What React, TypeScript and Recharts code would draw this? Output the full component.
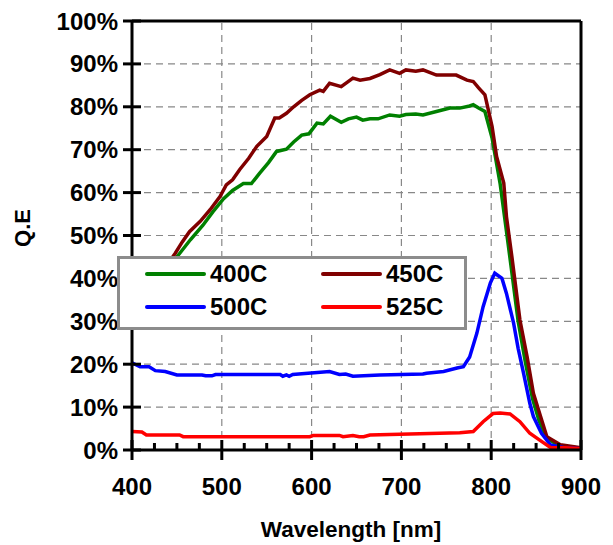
import React from 'react'
import {
  CartesianGrid,
  Legend,
  Line,
  LineChart,
  ReferenceLine,
  XAxis,
  YAxis,
} from 'recharts'

// wavelength (nm) / Q.E (%)
const x400 = [400, 425, 453, 465, 479, 490, 502, 512, 524, 533, 542, 552, 561, 572, 580, 589, 597, 606, 613, 621, 633, 641, 650, 657, 665, 674, 687, 698, 705, 716, 724, 739, 754, 765, 776, 780, 786, 793, 801, 810, 817, 822, 830, 838, 846, 853, 861, 875, 900]
const y400 = [32, 38.5, 45.8, 49, 52.4, 55.5, 58.6, 60.5, 62.1, 62.1, 64.5, 67, 69.6, 70.1, 71.8, 73.4, 73.7, 76.2, 76, 77.8, 76.4, 77.2, 77.6, 76.9, 77.2, 77.2, 78.1, 77.8, 78.2, 78.3, 78.1, 78.9, 79.7, 79.7, 80.2, 80.5, 79.7, 78.9, 72.7, 62, 51, 43, 30, 20.5, 12, 7, 3, 1, 0.4]

const x450 = [400, 425, 448, 456, 464, 476, 487, 498, 505, 512, 520, 530, 539, 550, 559, 564, 572, 580, 589, 598, 609, 613, 620, 633, 646, 654, 665, 676, 687, 698, 705, 716, 724, 739, 750, 761, 773, 780, 786, 793, 801, 806, 814, 817, 823, 832, 840, 847, 855, 862, 877, 900]
const y450 = [33, 39, 45.8, 48.5, 50.9, 53.3, 56, 59.1, 61.8, 63, 65.4, 68, 70.8, 73.1, 77.4, 77.4, 78.5, 80, 81.5, 82.8, 83.9, 83.6, 85.5, 84.7, 86.7, 86.2, 86.6, 87.5, 88.6, 87.8, 88.6, 88.3, 88.6, 87.4, 87.4, 87.4, 86.2, 85.9, 84.4, 82.8, 75.4, 68.4, 62.2, 54.4, 45.1, 30.3, 21.7, 13.2, 7.8, 3.1, 1.2, 0.5]

const x500 = [400, 409, 419, 426, 437, 450, 478, 482, 489, 493, 520, 565, 568, 572, 575, 579, 620, 631, 638, 646, 676, 724, 728, 747, 762, 769, 776, 784, 791, 799, 804, 812, 817, 825, 830, 836, 843, 847, 856, 866, 883, 900]
const y500 = [20.3, 19.4, 19.4, 18.5, 18.3, 17.5, 17.5, 17.3, 17.3, 17.6, 17.6, 17.6, 17.2, 17.5, 17.2, 17.6, 18.3, 17.6, 17.7, 17.2, 17.5, 17.7, 17.9, 18.3, 19.1, 19.4, 21.7, 27.2, 33.4, 38.9, 41.2, 40, 36.5, 29.5, 23.7, 17.9, 10.9, 7.8, 3.9, 1.2, 0.5, 0.3]

const x525 = [400, 411, 416, 453, 457, 598, 602, 631, 635, 646, 653, 658, 665, 765, 780, 791, 802, 810, 821, 832, 843, 854, 866, 883, 900]
const y525 = [4.3, 4.2, 3.5, 3.5, 3.1, 3.1, 3.4, 3.4, 3.1, 3.4, 3.1, 3.1, 3.5, 4, 4.3, 6.6, 8.5, 8.6, 8.4, 6.6, 3.9, 2.3, 0.6, 0.5, 0.3]

const xTicks = [400, 425, 450, 475, 500, 525, 550, 575, 600, 625, 650, 675, 700, 725, 750, 775, 800, 825, 850, 875, 900]
const yTicks = [0, 10, 20, 30, 40, 50, 60, 70, 80, 90, 100]
const xGrid = [500, 600, 700, 800]

const series = [
  { name: '400C', color: '#008000', xs: x400, ys: y400 },
  { name: '450C', color: '#800000', xs: x450, ys: y450 },
  { name: '500C', color: '#0000ff', xs: x500, ys: y500 },
  { name: '525C', color: '#ff0000', xs: x525, ys: y525 },
]

const font = '"Liberation Sans", Arial, sans-serif'

const toRows = (xs: number[], ys: number[]) => xs.map((x, i) => ({ x, y: ys[i] }))

function XTick(props: any) {
  const { x, y, payload } = props
  const major = payload.value % 100 === 0
  return (
    <g>
      <line x1={x} x2={x} y1={major ? y - 10 : y - 7} y2={major ? y + 10 : y} stroke="#000" strokeWidth={3} />
      {major && (
        <text x={x} y={y + 45} textAnchor="middle" fontFamily={font} fontWeight="bold" fontSize={24} fill="#000">
          {payload.value}
        </text>
      )}
    </g>
  )
}

function YTick(props: any) {
  const { x, y, payload } = props
  return (
    <g>
      <line x1={x - 9} x2={x + 9} y1={y} y2={y} stroke="#000" strokeWidth={3} />
      <text x={x - 14} y={y + 8.5} textAnchor="end" fontFamily={font} fontWeight="bold" fontSize={24} fill="#000">
        {payload.value + '%'}
      </text>
    </g>
  )
}

function LegendBox() {
  const cell = (s: typeof series[number], cx: number, cy: number) => (
    <g key={s.name}>
      <line x1={cx} x2={cx + 57} y1={cy} y2={cy} stroke={s.color} strokeWidth={4} strokeLinecap="round" />
      <text x={cx + 63} y={cy + 8} fontFamily={font} fontWeight="bold" fontSize={24} fill="#000">
        {s.name}
      </text>
    </g>
  )
  return (
    <div style={{ width: 350, height: 74, boxSizing: 'border-box', border: '3px solid #8c8c8c', background: '#fff' }}>
      <svg width={344} height={68} style={{ display: 'block' }}>
        {cell(series[0], 27, 15)}
        {cell(series[1], 203, 15)}
        {cell(series[2], 27, 48)}
        {cell(series[3], 203, 48)}
      </svg>
    </div>
  )
}

export default function App() {
  return (
    <div style={{ position: 'absolute', left: 0, top: 0, width: 613, height: 545, background: '#fff' }}>
      <LineChart width={613} height={545} margin={{ top: 21, right: 32, bottom: 0, left: 0 }}>
        <CartesianGrid vertical={false} stroke="#888" strokeDasharray="7 5" strokeWidth={1.2} />
        {xGrid.map((v) => (
          <ReferenceLine key={v} x={v} stroke="#888" strokeDasharray="7 5" strokeWidth={1.2} />
        ))}
        <ReferenceLine y={100} stroke="#000" strokeWidth={3} />
        <ReferenceLine x={900} stroke="#000" strokeWidth={3} />
        <XAxis
          type="number"
          dataKey="x"
          domain={[400, 900]}
          ticks={xTicks}
          interval={0}
          height={95}
          tickSize={0}
          tickMargin={0}
          tickLine={false}
          axisLine={{ stroke: '#000', strokeWidth: 3 }}
          tick={<XTick />}
          allowDataOverflow
          label={{
            content: () => (
              <text x={351} y={537} textAnchor="middle" fontFamily={font} fontWeight="bold" fontSize={22.5} fill="#000">
                Wavelength [nm]
              </text>
            ),
          }}
        />
        <YAxis
          type="number"
          domain={[0, 100]}
          ticks={yTicks}
          interval={0}
          width={132}
          tickSize={0}
          tickMargin={0}
          tickLine={false}
          axisLine={{ stroke: '#000', strokeWidth: 3 }}
          tick={<YTick />}
          allowDataOverflow
          label={{
            content: () => (
              <text
                transform="translate(30,228) rotate(-90)"
                textAnchor="middle"
                fontFamily={font}
                fontWeight="bold"
                fontSize={22}
                fill="#000"
              >
                Q.E
              </text>
            ),
          }}
        />
        {series.map((s) => (
          <Line
            key={s.name}
            data={toRows(s.xs, s.ys)}
            dataKey="y"
            name={s.name}
            type="linear"
            stroke={s.color}
            strokeWidth={3.5}
            dot={false}
            activeDot={false}
            isAnimationActive={false}
          />
        ))}
        <Legend
          layout="horizontal"
          verticalAlign="middle"
          align="center"
          content={() => <LegendBox />}
          wrapperStyle={{ position: 'absolute', left: 117, top: 256, width: 350, height: 74 }}
        />
      </LineChart>
    </div>
  )
}
